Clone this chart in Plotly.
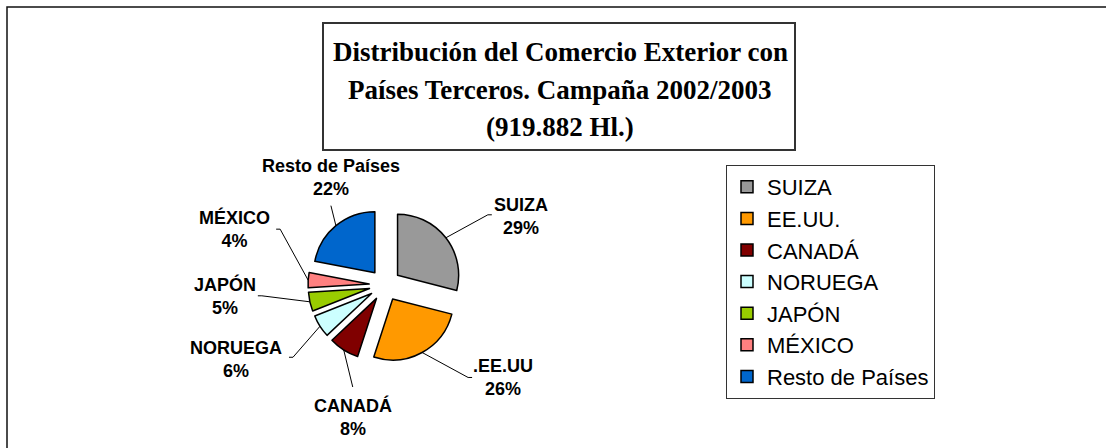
import math
import plotly.graph_objects as go

W, H = 1106, 448

# Export destinations, 2002/2003 campaign (share of total volume, %)
paises = ["SUIZA", "EE.UU.", "CANADÁ", "NORUEGA", "JAPÓN", "MÉXICO", "Resto de Países"]
etiquetas = ["SUIZA", ".EE.UU", "CANADÁ", "NORUEGA", "JAPÓN", "MÉXICO", "Resto de Países"]
cuota = [29, 26, 8, 6, 5, 4, 22]
colores = ["#999999", "#FF9900", "#800000", "#CCFFFF", "#99CC00", "#FF8080", "#0066CC"]
titulo = [
    "Distribución del Comercio Exterior con",
    "Países Terceros. Campaña 2002/2003",
    "(919.882 Hl.)",
]

# pie geometry (pixels)
CX, CY = 385, 285
R_TOTAL = 77
PULL = 0.26

# label text centre and leader elbow, relative to each slice's outer mid-point (px)
label_offset = [(75, -21), (81, 25), (9, 67), (-84, 33), (-85, -6), (-74, -51), (-5, -48)]
leader_elbow = [(42, -23), (46, 25), (9, 37), (-27, 31), (-48, -6), (-28, -51), (-5, -20)]
leader_tick = [4, 4, 0, -4, -4, -4, 0]


def px(x):
    return x / W


def py(y):
    return 1 - y / H


fig = go.Figure()
fig.add_trace(go.Pie(
    labels=paises,
    values=cuota,
    sort=False,
    direction="clockwise",
    rotation=0,
    pull=[PULL] * len(cuota),
    marker=dict(colors=colores, line=dict(color="black", width=1.5)),
    textinfo="none",
    hoverinfo="label+percent",
    domain=dict(
        x=[(CX - R_TOTAL) / W, (CX + R_TOTAL) / W],
        y=[1 - (CY + R_TOTAL) / H, 1 - (CY - R_TOTAL) / H],
    ),
))

shapes = []
annotations = []

# outer frame
shapes.append(dict(type="rect", xref="paper", yref="paper",
                   x0=px(7), y0=py(7), x1=px(W + 10), y1=py(H + 10),
                   line=dict(color="#111111", width=1.5), layer="below"))

# title box and lines
shapes.append(dict(type="rect", xref="paper", yref="paper",
                   x0=px(323), y0=py(23), x1=px(795), y1=py(150),
                   line=dict(color="#333333", width=2), fillcolor="white", layer="below"))
for i, linea in enumerate(titulo):
    annotations.append(dict(
        text=f"<b>{linea}</b>", xref="paper", yref="paper",
        x=px(560), y=py(52 + 37.5 * i), xanchor="center", yanchor="middle",
        showarrow=False,
        font=dict(family="Liberation Serif, Times New Roman, serif", size=27, color="black"),
    ))

# slice labels with leader lines
total = sum(cuota)
acum = 0
for i, v in enumerate(cuota):
    ang = 2 * math.pi * (acum + v / 2) / total
    acum += v
    dx, dy = math.sin(ang), -math.cos(ang)
    tx, ty = CX + R_TOTAL * dx, CY + R_TOTAL * dy
    ox, oy = label_offset[i]
    ex, ey = leader_elbow[i]
    ex, ey = tx + ex, ty + ey
    path = (f"M {px(tx)},{py(ty)} L {px(ex)},{py(ey)} "
            f"L {px(ex + leader_tick[i])},{py(ey)}")
    shapes.append(dict(type="path", xref="paper", yref="paper", path=path,
                       line=dict(color="black", width=1)))
    pct = round(100 * v / total)
    annotations.append(dict(
        text=f"<b>{etiquetas[i]}</b><br><b>{pct}%</b>",
        xref="paper", yref="paper", x=px(tx + ox), y=py(ty + oy),
        xanchor="center", yanchor="middle", showarrow=False, align="center",
        font=dict(family="Liberation Sans, Arial, sans-serif", size=18, color="black"),
    ))

fig.update_layout(
    width=W, height=H,
    margin=dict(l=0, r=0, t=0, b=0, pad=0),
    paper_bgcolor="white",
    plot_bgcolor="white",
    shapes=shapes,
    annotations=annotations,
    showlegend=True,
    legend=dict(
        x=px(726), y=py(165), xanchor="left", yanchor="top",
        font=dict(family="Liberation Sans, Arial, sans-serif", size=22, color="black"),
        bgcolor="white", bordercolor="#333333", borderwidth=1,
        itemwidth=30, traceorder="normal",
    ),
)

fig.write_html("out.html")
